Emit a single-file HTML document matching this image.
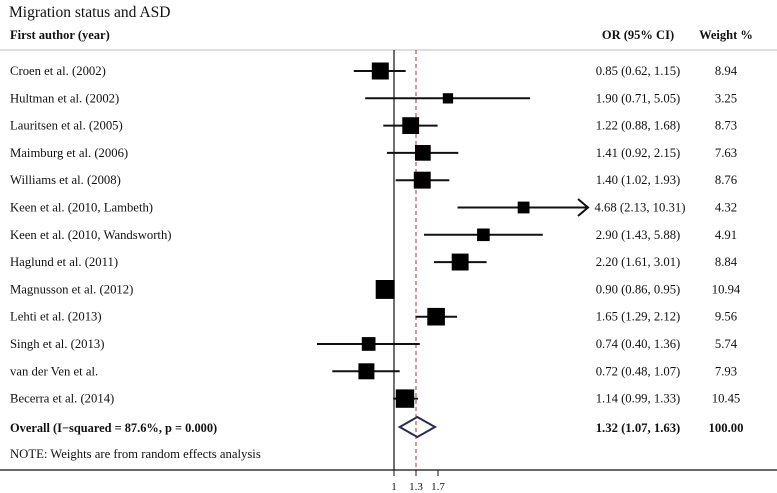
<!DOCTYPE html>
<html><head><meta charset="utf-8"><style>
body{margin:0;background:#fff}
svg{display:block}
text{font-family:"Liberation Serif",serif;font-size:12.7px;fill:#111}
.c{text-anchor:middle}
</style></head><body>
<svg width="777" height="493" viewBox="0 0 777 493">
<text x="9" y="17" style="font-size:15.5px">Migration status and ASD</text>
<text x="10" y="39" font-weight="bold" style="font-size:12.5px">First author (year)</text>
<text x="638" y="39" class="c" font-weight="bold" style="font-size:12.5px">OR (95% CI)</text>
<text x="726" y="39" class="c" font-weight="bold" style="font-size:12.5px">Weight %</text>
<line x1="0" y1="50" x2="777" y2="50" stroke="#bbb" stroke-width="1"/>
<line x1="394" y1="50" x2="394" y2="470" stroke="#222" stroke-width="1.3"/>
<line x1="416" y1="50" x2="416" y2="470" stroke="#a33" stroke-width="1" stroke-dasharray="4,3"/>
<line x1="0" y1="470" x2="777" y2="470" stroke="#111" stroke-width="1.2"/>
<g stroke="#111" stroke-width="1"><line x1="394" y1="470" x2="394" y2="476"/><line x1="416" y1="470" x2="416" y2="476"/><line x1="438" y1="470" x2="438" y2="476"/></g>
<text x="394" y="490" text-anchor="middle" style="font-size:11px">1</text>
<text x="416" y="490" text-anchor="middle" style="font-size:11px">1.3</text>
<text x="438" y="490" text-anchor="middle" style="font-size:11px">1.7</text>
<g stroke="#111" stroke-width="2">
<line x1="353.8" y1="71" x2="405.7" y2="71"/>
<line x1="365.2" y1="98.3" x2="530" y2="98.3"/>
<line x1="383.3" y1="125.6" x2="437.6" y2="125.6"/>
<line x1="387" y1="152.9" x2="458.3" y2="152.9"/>
<line x1="395.7" y1="180.2" x2="449.3" y2="180.2"/>
<line x1="457.5" y1="207.5" x2="588" y2="207.5"/>
<polyline points="578,199 588,207.5 578,216" fill="none"/>
<line x1="424" y1="234.8" x2="542.8" y2="234.8"/>
<line x1="434" y1="262.1" x2="486.6" y2="262.1"/>
<line x1="381.3" y1="289.4" x2="389.7" y2="289.4"/>
<line x1="415.4" y1="316.7" x2="457.1" y2="316.7"/>
<line x1="317" y1="344" x2="419.8" y2="344"/>
<line x1="332.3" y1="371.3" x2="399.7" y2="371.3"/>
<line x1="393.2" y1="398.6" x2="418" y2="398.6"/>
</g>
<g fill="#000">
<rect x="371.8" y="62.5" width="17" height="17"/>
<rect x="442.8" y="93.2" width="10.3" height="10.3"/>
<rect x="402.3" y="117.2" width="16.8" height="16.8"/>
<rect x="415" y="145" width="15.7" height="15.7"/>
<rect x="413.8" y="171.7" width="16.9" height="16.9"/>
<rect x="517.7" y="201.6" width="11.8" height="11.8"/>
<rect x="477.1" y="228.5" width="12.6" height="12.6"/>
<rect x="451.7" y="253.6" width="16.9" height="16.9"/>
<rect x="375.7" y="280" width="18.9" height="18.9"/>
<rect x="427.3" y="307.9" width="17.6" height="17.6"/>
<rect x="361.8" y="337.1" width="13.7" height="13.7"/>
<rect x="358.4" y="363.3" width="16" height="16"/>
<rect x="395.8" y="389.4" width="18.4" height="18.4"/>
</g>
<polygon points="399.7,427 417.3,417 435,427 417.3,437" fill="none" stroke="#2a2a55" stroke-width="2"/>
<g>
<text x="10" y="75">Croen et al. (2002)</text><text class="c" x="638" y="75">0.85 (0.62, 1.15)</text><text class="c" x="726" y="75">8.94</text>
<text x="10" y="102.3">Hultman et al. (2002)</text><text class="c" x="638" y="102.3">1.90 (0.71, 5.05)</text><text class="c" x="726" y="102.3">3.25</text>
<text x="10" y="129.6">Lauritsen et al. (2005)</text><text class="c" x="638" y="129.6">1.22 (0.88, 1.68)</text><text class="c" x="726" y="129.6">8.73</text>
<text x="10" y="156.9">Maimburg et al. (2006)</text><text class="c" x="638" y="156.9">1.41 (0.92, 2.15)</text><text class="c" x="726" y="156.9">7.63</text>
<text x="10" y="184.2">Williams et al. (2008)</text><text class="c" x="638" y="184.2">1.40 (1.02, 1.93)</text><text class="c" x="726" y="184.2">8.76</text>
<text x="10" y="211.5">Keen et al. (2010, Lambeth)</text><text class="c" x="640" y="211.5">4.68 (2.13, 10.31)</text><text class="c" x="726" y="211.5">4.32</text>
<text x="10" y="238.8">Keen et al. (2010, Wandsworth)</text><text class="c" x="638" y="238.8">2.90 (1.43, 5.88)</text><text class="c" x="726" y="238.8">4.91</text>
<text x="10" y="266.1">Haglund et al. (2011)</text><text class="c" x="638" y="266.1">2.20 (1.61, 3.01)</text><text class="c" x="726" y="266.1">8.84</text>
<text x="10" y="293.4">Magnusson et al. (2012)</text><text class="c" x="638" y="293.4">0.90 (0.86, 0.95)</text><text class="c" x="726" y="293.4">10.94</text>
<text x="10" y="320.7">Lehti et al. (2013)</text><text class="c" x="638" y="320.7">1.65 (1.29, 2.12)</text><text class="c" x="726" y="320.7">9.56</text>
<text x="10" y="348">Singh et al. (2013)</text><text class="c" x="638" y="348">0.74 (0.40, 1.36)</text><text class="c" x="726" y="348">5.74</text>
<text x="10" y="375.3">van der Ven et al.</text><text class="c" x="638" y="375.3">0.72 (0.48, 1.07)</text><text class="c" x="726" y="375.3">7.93</text>
<text x="10" y="402.6">Becerra et al. (2014)</text><text class="c" x="638" y="402.6">1.14 (0.99, 1.33)</text><text class="c" x="726" y="402.6">10.45</text>
<text x="10" y="432" font-weight="bold" style="font-size:12.4px">Overall  (I−squared = 87.6%, p = 0.000)</text><text class="c" x="638" y="432" font-weight="bold">1.32 (1.07, 1.63)</text><text class="c" x="726" y="432" font-weight="bold">100.00</text>
<text x="10" y="458">NOTE: Weights are from random effects analysis</text>
</g>
</svg>
</body></html>
